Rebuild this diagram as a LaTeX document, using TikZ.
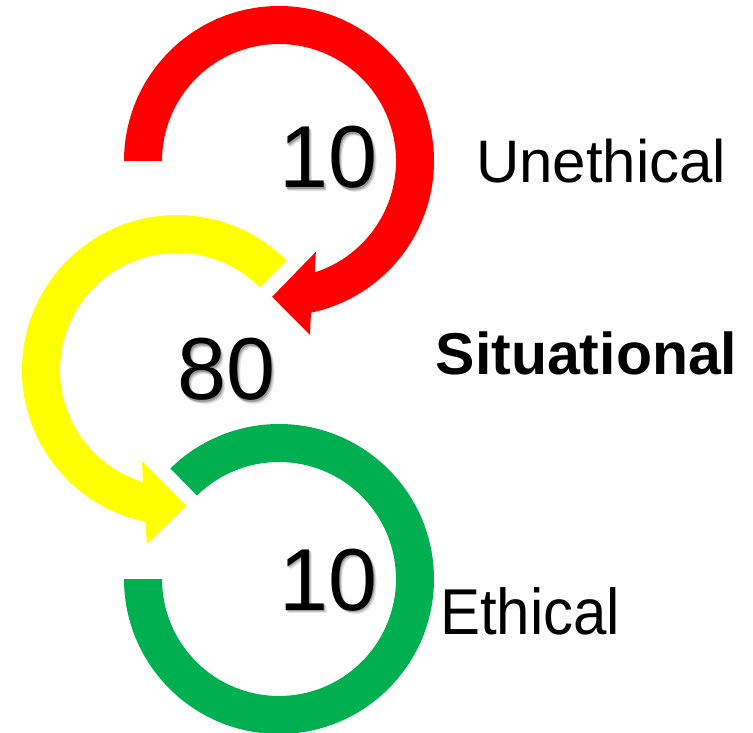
\documentclass[tikz,border=0pt]{standalone}
\usepackage{fontspec}
\setmainfont{Liberation Sans}
\usetikzlibrary{calc}
\definecolor{pptred}{HTML}{FF0000}
\definecolor{pptyellow}{HTML}{FFFF00}
\definecolor{pptgreen}{HTML}{00B050}
\newcommand{\shadowtext}[1]{%
  \makebox[0pt][l]{\hspace{3.2pt}\raisebox{-3.2pt}{\color{black!10}#1}}%
  \makebox[0pt][l]{\hspace{2.2pt}\raisebox{-2.2pt}{\color{black!22}#1}}%
  \makebox[0pt][l]{\hspace{1.2pt}\raisebox{-1.2pt}{\color{black!40}#1}}%
  #1}
\begin{document}
\begin{tikzpicture}[x=1pt,y=1pt,
  num/.style={font=\fontsize{88}{90}\selectfont, inner sep=0pt, anchor=base west, text=black},
  lbl/.style={font=\fontsize{60}{62}\selectfont, inner sep=0pt, anchor=base west, text=black}]
\useasboundingbox (0,0) rectangle (753,732);
\coordinate (cr) at (279,571);
\coordinate (cy) at (177,362);
\coordinate (cg) at (279,153);
% red arrow
\fill[pptred] ($(cr)+(180:155)$) arc[start angle=180, end angle=-78.1, radius=155]
  -- ($(cr)+(-79.9:176.7)$) -- ($(cr)+(-92.9:136)$) -- ($(cr)+(-67.9:98)$)
  -- ($(cr)+(-72.2:117)$) arc[start angle=-72.2, end angle=180, radius=117] -- cycle;
% yellow arrow
\fill[pptyellow] ($(cy)+(45:155)$) arc[start angle=45, end angle=258.2, radius=155]
  -- ($(cy)+(260.2:176.6)$) -- ($(cy)+(273.8:136)$) -- ($(cy)+(249:97.5)$)
  -- ($(cy)+(253.1:117)$) arc[start angle=253.1, end angle=45, radius=117] -- cycle;
% green ring
\fill[pptgreen] ($(cg)+(180:155)$) arc[start angle=180, end angle=494.5, radius=155]
  -- ($(cg)+(134.5:117)$) arc[start angle=134.5, end angle=-180, radius=117] -- cycle;
% numbers with soft shadow
\node[num] (red10) at (279,544) {\shadowtext{10}};
\node[num] (eighty) at (177,332) {\shadowtext{80}};
\node[num] (green10) at (279,122) {\shadowtext{10}};
% labels
\node[lbl] (unethical) at (476,549) {Unethical};
\node[lbl, font=\fontsize{59}{61}\selectfont\bfseries] (situational) at (435.5,357) {Situational};
\node[lbl] (ethical) at (440,98) {\scalebox{1}[1.08]{Ethical}};
\end{tikzpicture}
\end{document}
